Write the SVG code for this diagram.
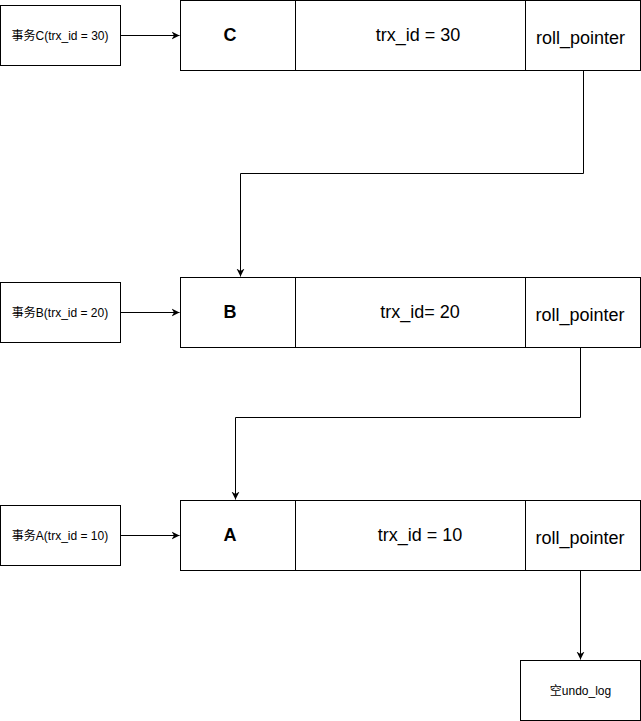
<svg xmlns="http://www.w3.org/2000/svg" width="641" height="721" viewBox="0 0 641 721">
<style>
rect{fill:#fff;stroke:#000;stroke-width:1}
.d{stroke:#000;stroke-width:1}
.c{fill:none;stroke:#000;stroke-width:1}
text{font-family:"Liberation Sans",Arial,"Noto Sans CJK SC",sans-serif;fill:#000;text-anchor:middle;dominant-baseline:central}
.s{font-size:12px}
.m{font-size:18px}
.b{font-size:18px;font-weight:bold}
</style>
<defs><marker id="ar" markerWidth="10" markerHeight="10" refX="8" refY="4.5" orient="auto" markerUnits="userSpaceOnUse"><path d="M0,0.5 L8,4.5 L0,8.5 L2.5,4.5 Z" fill="#000"/></marker></defs>
<g id="txC"><rect x="0.5" y="5.5" width="120" height="60"/><text class="s" x="60" y="35.5">事务C(trx_id = 30)</text></g>
<g id="txB"><rect x="0.5" y="282.5" width="120" height="60"/><text class="s" x="60" y="312.5">事务B(trx_id = 20)</text></g>
<g id="txA"><rect x="0.5" y="505.5" width="120" height="60"/><text class="s" x="60" y="535.5">事务A(trx_id = 10)</text></g>
<g id="rowC"><rect x="180.5" y="0.5" width="460" height="70"/><line class="d" x1="295.5" y1="0.5" x2="295.5" y2="70.5"/><line class="d" x1="525.5" y1="0.5" x2="525.5" y2="70.5"/><text class="b" x="230" y="35">C</text><text class="m" x="418" y="35">trx_id = 30</text><text class="m" x="580.5" y="38">roll_pointer</text></g>
<g id="rowB"><rect x="180.5" y="277.5" width="460" height="70"/><line class="d" x1="295.5" y1="277.5" x2="295.5" y2="347.5"/><line class="d" x1="525.5" y1="277.5" x2="525.5" y2="347.5"/><text class="b" x="230" y="312">B</text><text class="m" x="420" y="312">trx_id= 20</text><text class="m" x="580" y="315">roll_pointer</text></g>
<g id="rowA"><rect x="180.5" y="500.5" width="460" height="70"/><line class="d" x1="295.5" y1="500.5" x2="295.5" y2="570.5"/><line class="d" x1="525.5" y1="500.5" x2="525.5" y2="570.5"/><text class="b" x="230" y="535">A</text><text class="m" x="420" y="535">trx_id = 10</text><text class="m" x="580" y="538">roll_pointer</text></g>
<g id="undo"><rect x="520.5" y="660.5" width="120" height="60"/><text class="s" x="580.5" y="690.5">空undo_log</text></g>
<g id="connectors">
<path class="c" d="M120.5,35.5 H179.5" marker-end="url(#ar)"/>
<path class="c" d="M120.5,312.5 H179.5" marker-end="url(#ar)"/>
<path class="c" d="M120.5,535.5 H179.5" marker-end="url(#ar)"/>
<path class="c" d="M583.5,70.5 V173.5 H240.5 V276.5" marker-end="url(#ar)"/>
<path class="c" d="M580.5,347.5 V417.5 H235.5 V499.5" marker-end="url(#ar)"/>
<path class="c" d="M580.5,570.5 V659.5" marker-end="url(#ar)"/>
</g>
</svg>
